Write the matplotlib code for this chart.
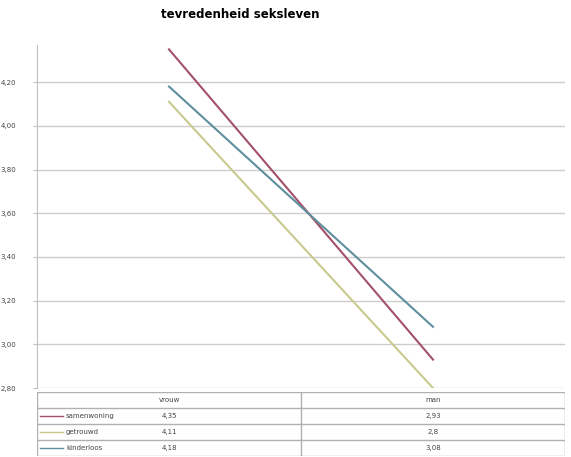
import matplotlib.pyplot as plt
import numpy as np

# data
categories = ['vrouw', 'man']
series_names = ['samenwoning', 'getrouwd', 'kinderloos']
series_vals = [
    [4.35, 2.93],
    [4.11, 2.8],
    [4.18, 3.08],
]
colors = ['#A3506A', '#C9C98E', '#5F8E9E']
yticks = [2.8, 3.0, 3.2, 3.4, 3.6, 3.8, 4.0, 4.2]
ytick_labels = ['2,80', '3,00', '3,20', '3,40', '3,60', '3,80', '4,00', '4,20']

W, H = 571, 457
fig = plt.figure(figsize=(W / 100, H / 100), dpi=100)

x0, x1 = 37, 565
ax = fig.add_axes([x0 / W, 1 - 388 / H, (x1 - x0) / W, (388 - 45) / H])
xs = np.arange(len(categories))
for vals, c in zip(series_vals, colors):
    ax.plot(xs, vals, color=c, lw=1.5)
ax.set_xlim(-0.5, len(categories) - 0.5)
ax.set_ylim(2.8, 4.37)
ax.set_yticks(yticks)
ax.set_yticklabels(ytick_labels, fontsize=5, color='#444444')
ax.set_xticks([])
ax.yaxis.grid(True, color='#cccccc', lw=1)
ax.set_axisbelow(True)
for s in ['top', 'right', 'bottom']:
    ax.spines[s].set_visible(False)
ax.spines['left'].set_color('#c0c0c0')
ax.tick_params(axis='y', length=3, color='#c0c0c0', pad=12)

fig.text(240 / W, 1 - 15 / H, 'tevredenheid seksleven', ha='center', va='center',
         fontsize=8.5, fontweight='bold')

# data table under the chart
tab = fig.add_axes([x0 / W, 1 / H, (x1 - x0) / W, (H - 393) / H])
tab.set_xlim(-0.5, len(categories) - 0.5)
tab.set_ylim(0, 4)
tab.axis('off')
for yy in [0, 1, 2, 3, 4]:
    tab.axhline(yy, color='#b0b0b0', lw=1)
for xx in [-0.5, 0.5, 1.5]:
    tab.axvline(xx, color='#b0b0b0', lw=1)
for j, cat in enumerate(categories):
    tab.text(j, 3.5, cat, ha='center', va='center', fontsize=5, color='#444444')
for i, name in enumerate(series_names):
    yy = 2.5 - i
    tab.plot([-0.49, -0.40], [yy, yy], color=colors[i], lw=1)
    tab.text(-0.39, yy, name, ha='left', va='center', fontsize=5, color='#444444')
    for j, v in enumerate(series_vals[i]):
        tab.text(j, yy, f'{v:g}'.replace('.', ','), ha='center', va='center',
                 fontsize=5, color='#444444')

fig.savefig('out.png', dpi=100)
